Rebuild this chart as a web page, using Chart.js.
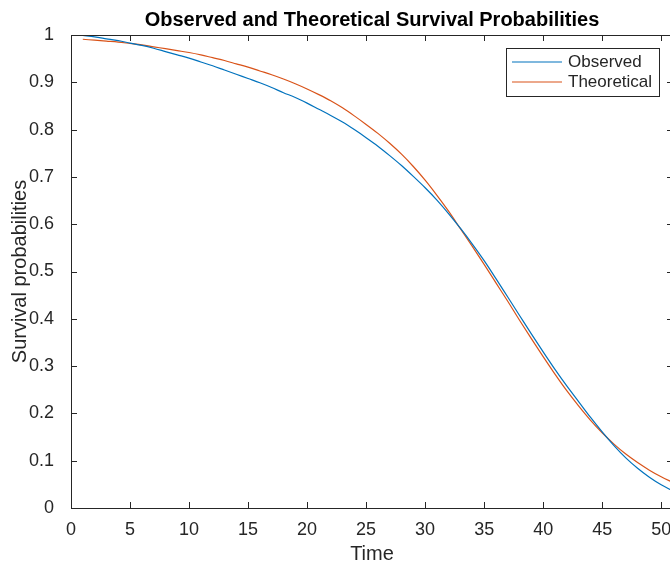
<!DOCTYPE html>
<html>
<head>
<meta charset="utf-8">
<script src="https://cdn.jsdelivr.net/npm/chart.js@4.4.1/dist/chart.umd.min.js"></script>
<style>
  html, body { margin: 0; padding: 0; background: #fff; overflow: hidden; }
  #wrap { width: 670px; height: 567px; overflow: hidden; }
</style>
</head>
<body>
<div id="wrap"><canvas id="grafico" width="676" height="567"></canvas></div>
<script>
// ================= DATA =================
const tiempos = [1,2,3,4,5,6,7,8,9,10,11,12,13,14,15,16,17,18,19,20,21,22,23,24,25,26,
    27,28,29,30,31,32,33,34,35,36,37,38,39,40,41,42,43,44,45,46,47,48,49,50,51];

const observado = [0.999,0.996,0.992,0.988,0.983,0.978,0.972,0.965,0.958,0.951,
    0.943,0.935,0.926,0.917,0.908,0.899,0.889,0.878,0.868,0.856,
    0.843,0.830,0.816,0.800,0.783,0.765,0.745,0.724,0.701,0.677,
    0.651,0.622,0.591,0.558,0.523,0.485,0.446,0.407,0.368,0.330,
    0.293,0.258,0.225,0.192,0.161,0.132,0.106,0.084,0.065,0.049,0.036];

const teorico = [0.991,0.989,0.987,0.985,0.982,0.979,0.975,0.971,0.967,0.963,
    0.958,0.952,0.946,0.939,0.932,0.924,0.916,0.907,0.897,0.886,
    0.874,0.861,0.846,0.829,0.811,0.792,0.771,0.748,0.722,0.693,
    0.661,0.627,0.590,0.553,0.515,0.476,0.437,0.397,0.358,0.320,
    0.283,0.248,0.216,0.186,0.159,0.135,0.114,0.096,0.080,0.066,0.054];

const ticksX = [0,5,10,15,20,25,30,35,40,45,50];
const ticksY = [0,0.1,0.2,0.3,0.4,0.5,0.6,0.7,0.8,0.9,1];

const titulo = "Observed and Theoretical Survival Probabilities";
const tituloX = "Time";
const tituloY = "Survival probabilities";

// ================= ESTILO =================
const colorEje = "#262626";
const fuente = "'Liberation Sans', Arial, Helvetica, sans-serif";

// ================= PLUGIN EJES (estilo MATLAB) =================
const ejesMatlab = {
    id: "ejesMatlab",
    afterDatasetsDraw(chart) {
        const { ctx, chartArea: a, scales } = chart;
        const largo = 6;
        ctx.save();
        ctx.strokeStyle = colorEje;
        ctx.lineWidth = 1;
        ctx.strokeRect(a.left + 0.5, a.top + 0.5, a.right - a.left - 1, a.bottom - a.top);

        ctx.beginPath();
        ticksX.forEach(v => {
            const x = Math.round(scales.x.getPixelForValue(v)) + 0.5;
            ctx.moveTo(x, a.bottom); ctx.lineTo(x, a.bottom - largo);
            ctx.moveTo(x, a.top); ctx.lineTo(x, a.top + largo);
        });
        ticksY.forEach(v => {
            const y = Math.round(scales.y.getPixelForValue(v)) + 0.5;
            ctx.moveTo(a.left, y); ctx.lineTo(a.left + largo, y);
            ctx.moveTo(a.right, y); ctx.lineTo(a.right - largo, y);
        });
        ctx.stroke();
        ctx.restore();
    },
    afterDraw(chart) {
        const { ctx, chartArea: a } = chart;
        ctx.save();

        // titulo
        ctx.fillStyle = "#000";
        ctx.font = "bold 20px " + fuente;
        ctx.textAlign = "center";
        ctx.textBaseline = "alphabetic";
        ctx.fillText(titulo, (a.left + a.right) / 2, 26);

        // leyenda
        const caja = { x: 506.5, y: 48.5, w: 153, h: 48 };
        ctx.fillStyle = "#fff";
        ctx.fillRect(caja.x, caja.y, caja.w, caja.h);
        ctx.strokeStyle = colorEje;
        ctx.lineWidth = 1;
        ctx.strokeRect(caja.x, caja.y, caja.w, caja.h);

        ctx.font = "17px " + fuente;
        ctx.textAlign = "left";
        ctx.textBaseline = "middle";
        chart.data.datasets.forEach((ds, i) => {
            const y = 62 + i * 20;
            ctx.strokeStyle = ds.borderColor;
            ctx.lineWidth = 1.2;
            ctx.beginPath();
            ctx.moveTo(512, y);
            ctx.lineTo(562, y);
            ctx.stroke();
            ctx.fillStyle = colorEje;
            ctx.fillText(ds.label, 568, y);
        });
        ctx.restore();
    }
};

// ================= GRAFICO =================
const puntos = serie => tiempos.map((t, i) => ({ x: t, y: serie[i] }));

new Chart(document.getElementById("grafico"), {
    type: "line",
    data: {
        datasets: [
            { label: "Observed", data: puntos(observado), borderColor: "#0072BD",
              borderWidth: 1.2, pointRadius: 0, cubicInterpolationMode: "monotone", fill: false },
            { label: "Theoretical", data: puntos(teorico), borderColor: "#D95319",
              borderWidth: 1.2, pointRadius: 0, cubicInterpolationMode: "monotone", fill: false }
        ]
    },
    options: {
        responsive: false,
        animation: false,
        layout: { padding: { top: 35, right: 3, left: 0, bottom: 0 } },
        plugins: { legend: { display: false }, title: { display: false }, tooltip: { enabled: false } },
        scales: {
            x: {
                type: "linear", min: 0, max: 51,
                grid: { display: false }, border: { display: false },
                afterBuildTicks: s => { s.ticks = ticksX.map(v => ({ value: v })); },
                afterFit: s => { s.height = 59; },
                ticks: { color: colorEje, padding: 3, maxRotation: 0,
                         font: { size: 18, family: fuente } },
                title: { display: true, text: tituloX, color: colorEje,
                         font: { size: 20, family: fuente }, padding: { top: 0, bottom: 1 } }
            },
            y: {
                type: "linear", min: 0, max: 1,
                grid: { display: false }, border: { display: false },
                afterBuildTicks: s => { s.ticks = ticksY.map(v => ({ value: v })); },
                afterFit: s => { s.width = 71; },
                ticks: { color: colorEje, padding: 9,
                         font: { size: 18, family: fuente },
                         callback: v => String(Math.round(v * 10) / 10) },
                title: { display: true, text: tituloY, color: colorEje,
                         font: { size: 20, family: fuente }, padding: { top: 8, bottom: 0 } }
            }
        }
    },
    plugins: [ejesMatlab]
});
</script>
</body>
</html>
